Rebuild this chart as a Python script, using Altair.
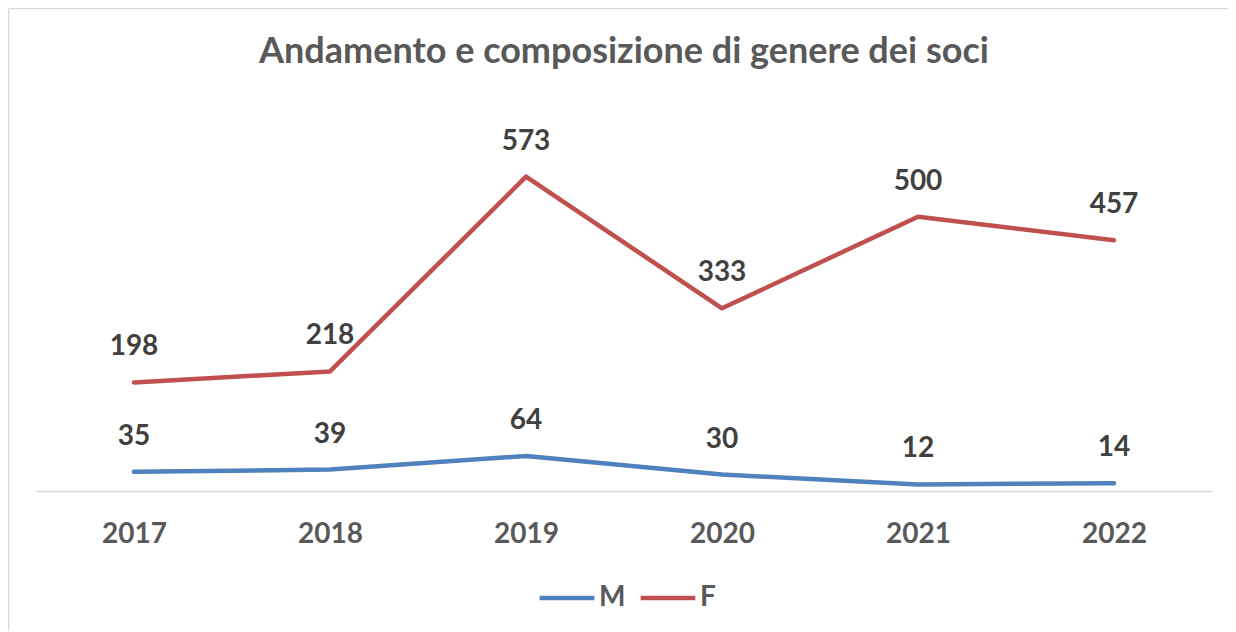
import altair as alt
import pandas as pd

years = ["2017", "2018", "2019", "2020", "2021", "2022"]
m_values = [35, 39, 64, 30, 12, 14]
f_values = [198, 218, 573, 333, 500, 457]
series = ["M", "F"]
colors = ["#4F81BD", "#C0504D"]
title_text = "Andamento e composizione di genere dei soci"

rows = []
for y, v in zip(years, m_values):
    rows.append({"anno": y, "serie": "M", "valore": v})
for y, v in zip(years, f_values):
    rows.append({"anno": y, "serie": "F", "valore": v})
df = pd.DataFrame(rows)

FONT = "Lato"

x_enc = alt.X("anno:N", sort=years, title=None,
              scale=alt.Scale(paddingInner=0, paddingOuter=0, align=0.5),
              axis=alt.Axis(labelAngle=0, ticks=False, tickSize=0, domainColor="#d9d9d9",
                            domainWidth=1.5, labelFont=FONT, labelFontSize=28,
                            labelFontWeight="bold", labelColor="#595959",
                            labelBaseline="alphabetic", labelPadding=51, grid=False))
y_enc = alt.Y("valore:Q", scale=alt.Scale(domain=[0, 700], nice=False), axis=None)
color_enc = alt.Color("serie:N", sort=series,
                      scale=alt.Scale(domain=series, range=colors),
                      legend=alt.Legend(title=None, orient="none", direction="horizontal",
                                        legendX=501, legendY=461,
                                        symbolType="stroke", symbolSize=3000,
                                        symbolStrokeWidth=4.5, labelFont=FONT,
                                        labelFontSize=28, labelFontWeight="bold",
                                        labelColor="#595959", columnPadding=5,
                                        labelOffset=2))

base = alt.Chart(df)
lines = base.mark_line(strokeWidth=4.5, strokeCap="round", strokeJoin="round").encode(
    x=x_enc, y=y_enc, color=color_enc, detail="serie:N")
labels = base.mark_text(font=FONT, fontSize=28, fontWeight="bold", color="#404040",
                        baseline="alphabetic", dy=-27).encode(
    x=alt.X("anno:N", sort=years), y="valore:Q", text="valore:Q")

one = pd.DataFrame({"t": [title_text]})
frame_v = alt.Chart(one).mark_rule(color="#d9d9d9", strokeWidth=1.5).encode(
    x=alt.value(-27.5), y=alt.value(-98.5), y2=alt.value(600))
frame_h = alt.Chart(one).mark_rule(color="#d9d9d9", strokeWidth=1.5).encode(
    x=alt.value(-27.5), x2=alt.value(1300), y=alt.value(-98.5))
title = alt.Chart(one).mark_text(font=FONT, fontSize=36, fontWeight="bold", color="#595959",
                                 baseline="alphabetic", align="center").encode(
    x=alt.value(588), y=alt.value(-44), text="t:N")

chart = alt.layer(frame_v, frame_h, title, lines, labels).properties(
    width=1176, height=384,
    background="white",
    autosize=alt.AutoSizeParams(type="none"),
    padding={"left": 28, "top": 99, "right": 16, "bottom": 140},
).configure_view(stroke="transparent", strokeWidth=0)

chart.save("out.html", embed_options={"renderer": "svg", "actions": False})
